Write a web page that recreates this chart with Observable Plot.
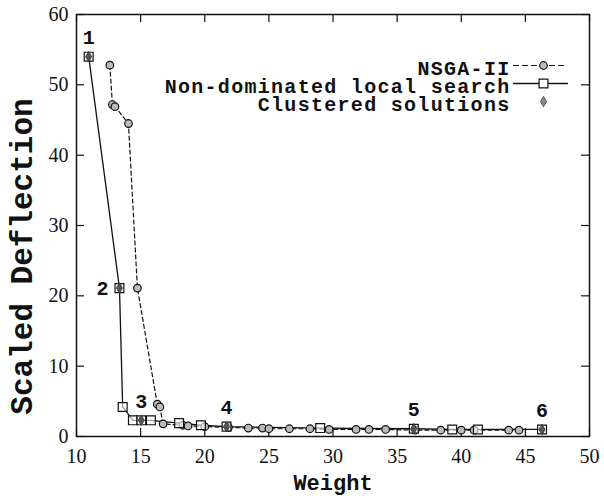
<!DOCTYPE html>
<html><head><meta charset="utf-8">
<script src="https://cdn.jsdelivr.net/npm/d3@7"></script>
<script src="https://cdn.jsdelivr.net/npm/@observablehq/plot@0.6"></script>
<style>body{margin:0;background:#fff} .legend-text text{letter-spacing:1.3px}</style>
</head><body><div id="chart"></div>
<script>
const nsgaWeight = [12.6, 12.8, 13.0, 14.05, 14.75, 16.3, 16.5, 16.75, 18.3, 18.7, 20.0, 21.85, 23.4, 24.5, 25.0, 26.6, 28.2, 29.7, 31.8, 32.8, 34.1, 36.4, 38.4, 40.0, 41.0, 43.7, 44.5];
const nsgaDeflection = [52.8, 47.2, 46.9, 44.5, 21.1, 4.6, 4.2, 1.8, 1.6, 1.5, 1.4, 1.3, 1.2, 1.2, 1.1, 1.1, 1.1, 1.0, 1.0, 1.0, 1.0, 0.9, 0.9, 0.9, 0.9, 0.9, 0.9];
const localWeight = [10.95, 13.35, 13.6, 14.4, 15.05, 15.8, 18.0, 19.7, 21.7, 29.0, 36.3, 39.3, 41.3, 46.3];
const localDeflection = [54.0, 21.1, 4.2, 2.3, 2.3, 2.3, 1.9, 1.6, 1.4, 1.2, 1.1, 1.0, 1.0, 1.0];
const clusterWeight = [10.95, 13.35, 15.05, 21.7, 36.3, 46.3];
const clusterDeflection = [54.0, 21.1, 2.3, 1.4, 1.1, 1.0];
const clusterLabels = ["1", "2", "3", "4", "5", "6"];
const xTicks = [10, 15, 20, 25, 30, 35, 40, 45, 50];
const yTicks = [0, 10, 20, 30, 40, 50, 60];
const seriesNames = ["NSGA-II", "Non-dominated local search", "Clustered solutions"];

const nsga = nsgaWeight.map((w, i) => ({w, d: nsgaDeflection[i]}));
const local = localWeight.map((w, i) => ({w, d: localDeflection[i]}));
const cluster = clusterWeight.map((w, i) => ({w, d: clusterDeflection[i], label: clusterLabels[i]}));

const W = 604, H = 496, mL = 76, mR = 15, mT = 14, mB = 60;
const fw = W - mL - mR, fh = H - mT - mB, tl = 8;
const mono = "'Liberation Mono', 'Courier New', monospace";
const serif = "'Liberation Serif', 'Times New Roman', serif";
const ink = "#111";
const lineShape = {draw(ctx, l) { ctx.moveTo(0, 0); ctx.lineTo(0, -l); }};

const legendMarks = [];
const rowDy = [54, 72, 90];
seriesNames.forEach((name, i) => {
  legendMarks.push(Plot.text([name], {frameAnchor: "top-right", dx: -79, dy: rowDy[i], text: d => d,
    textAnchor: "end", lineAnchor: "middle", fontFamily: mono, fontWeight: "bold", fontSize: 20, fill: ink,
    className: "legend-text"}));
});
legendMarks.push(Plot.vector([seriesNames[0]], {frameAnchor: "top-right", dx: -76, dy: rowDy[0] - 3, length: 54, rotate: 90, anchor: "start", shape: lineShape, stroke: ink, strokeWidth: 1.2, strokeDasharray: "5,4"}));
legendMarks.push(Plot.vector([seriesNames[1]], {frameAnchor: "top-right", dx: -76, dy: rowDy[1] - 3, length: 54, rotate: 90, anchor: "start", shape: lineShape, stroke: ink, strokeWidth: 1.3}));
legendMarks.push(Plot.dot([seriesNames[0]], {frameAnchor: "top-right", dx: -46, dy: rowDy[0] - 3, r: 3.8, symbol: "circle", fill: "#bbb", stroke: ink, strokeWidth: 1.2}));
legendMarks.push(Plot.dot([seriesNames[1]], {frameAnchor: "top-right", dx: -46, dy: rowDy[1] - 3, r: 5, symbol: "square", fill: "#fff", stroke: ink, strokeWidth: 1.2}));
legendMarks.push(Plot.dot([seriesNames[2]], {frameAnchor: "top-right", dx: -46, dy: rowDy[2] - 3, r: 3.2, symbol: "diamond", fill: "#888", stroke: "#444", strokeWidth: 0.8}));

const chart = Plot.plot({
  width: W, height: H,
  marginLeft: mL, marginRight: mR, marginTop: mT, marginBottom: mB,
  x: {domain: [10, 50]},
  y: {domain: [0, 60]},
  style: {background: "#fff", color: ink},
  marks: [
    Plot.axisX({ticks: xTicks, tickSize: 0, tickPadding: 12, label: null, fontFamily: serif, fontSize: 20, fill: ink}),
    Plot.axisY({ticks: yTicks, tickSize: 0, tickPadding: 8, label: null, fontFamily: serif, fontSize: 20, fill: ink}),
    Plot.tickX(xTicks, {x: d => d, insetTop: fh - tl, stroke: ink, strokeWidth: 1.2}),
    Plot.tickX(xTicks, {x: d => d, insetBottom: fh - tl, stroke: ink, strokeWidth: 1.2}),
    Plot.tickY(yTicks, {y: d => d, insetRight: fw - tl, stroke: ink, strokeWidth: 1.2}),
    Plot.tickY(yTicks, {y: d => d, insetLeft: fw - tl, stroke: ink, strokeWidth: 1.2}),
    Plot.frame({stroke: ink, strokeWidth: 1.5}),
    Plot.text(["Weight"], {frameAnchor: "bottom", dy: 53, text: d => d, fontFamily: mono, fontWeight: "bold", fontSize: 22, fill: ink}),
    Plot.text(["Scaled Deflection"], {frameAnchor: "left", dx: -54, dy: 31, rotate: -90, textAnchor: "middle", text: d => d, fontFamily: mono, fontWeight: "bold", fontSize: 31, fill: ink}),
    Plot.line(nsga, {x: "w", y: "d", stroke: ink, strokeWidth: 1.2, strokeDasharray: "4,3"}),
    Plot.line(local, {x: "w", y: "d", stroke: ink, strokeWidth: 1.3}),
    Plot.dot(nsga, {x: "w", y: "d", r: 3.8, symbol: "circle", fill: "#bbb", stroke: ink, strokeWidth: 1.2}),
    Plot.dot(local, {x: "w", y: "d", r: 5, symbol: "square", fill: "#fff", fillOpacity: 0.6, stroke: ink, strokeWidth: 1.2}),
    Plot.dot(cluster, {x: "w", y: "d", r: 3.2, symbol: "diamond", fill: "#555", stroke: "#333", strokeWidth: 0.8}),
    Plot.text(cluster.filter(d => d.label !== "2"), {x: "w", y: "d", text: "label", dy: -19, fontFamily: mono, fontWeight: "bold", fontSize: 20, fill: ink}),
    Plot.text(cluster.filter(d => d.label === "2"), {x: "w", y: "d", text: "label", dx: -17, fontFamily: mono, fontWeight: "bold", fontSize: 20, fill: ink}),
    ...legendMarks
  ]
});
document.getElementById("chart").appendChild(chart);
</script>
</body></html>
